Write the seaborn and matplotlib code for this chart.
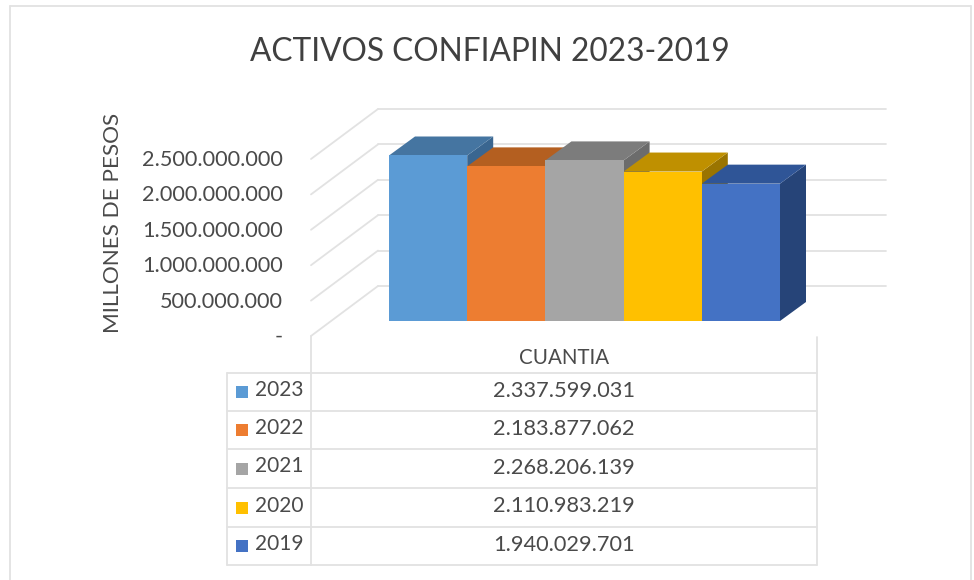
import matplotlib
matplotlib.use("Agg")
import matplotlib.pyplot as plt
import pandas as pd
import seaborn as sns
from matplotlib.lines import Line2D
from matplotlib.patches import Rectangle
from matplotlib.ticker import FuncFormatter

years = ["2023", "2022", "2021", "2020", "2019"]
values = [2337599031, 2183877062, 2268206139, 2110983219, 1940029701]
front_colors = ["#5B9BD5", "#ED7D31", "#A5A5A5", "#FFC000", "#4472C4"]
top_colors = ["#4575A1", "#B45F20", "#7C7C7C", "#BF9000", "#2F5597"]
side_colors = ["#3A6690", "#9E5019", "#6C6C6C", "#9A7400", "#264478"]
axis_ticks = [0, 500000000, 1000000000, 1500000000, 2000000000, 2500000000]

W, H = 974, 580
GRID = "#e2e2e2"
TEXT = "#4a4a4a"
FONT = "Lato"


def fmt(v, pos=None):
    if v == 0:
        return "-"
    return f"{v:,.0f}".replace(",", ".")


def fx(px):
    return px / W


def fy(py):
    return 1 - py / H


def fig_line(x0, y0, x1, y1, lw=1.3):
    fig.add_artist(Line2D([fx(x0), fx(x1)], [fy(y0), fy(y1)], color=GRID, lw=lw))


sns.set_style("white")
plt.rcParams["font.family"] = FONT

fig = plt.figure(figsize=(W / 100, H / 100), dpi=100)

# bars: axes sits on the front plane of the bars
x_left, x_right, y_base, y_top = 389, 780, 321, 100
px_per_val = 70.8e-9
px_per_cat = (x_right - x_left) / len(years)
ax = fig.add_axes([fx(x_left), fy(y_base), fx(x_right - x_left), (y_base - y_top) / H])
df = pd.DataFrame({"year": years, "value": values})
sns.barplot(data=df, x="year", y="value", hue="year", palette=front_colors,
            width=1.0, dodge=False, legend=False, saturation=1, ax=ax, zorder=5,
            linewidth=0, edgecolor="none")
ax.set_xlim(-0.5, len(years) - 0.5)
ax.set_ylim(0, (y_base - y_top) / px_per_val)
ax.axis("off")

# depth of the fake 3d bars
dx = 26 / px_per_cat
dy = 19 / px_per_val
for i, bar in enumerate(ax.patches):
    x0, x1 = bar.get_x(), bar.get_x() + bar.get_width()
    h = bar.get_height()
    ax.fill([x1, x1 + dx, x1 + dx, x1], [0, dy, h + dy, h], color=side_colors[i],
            lw=0, clip_on=False, zorder=2 + i * 0.02)
    ax.fill([x0, x1, x1 + dx, x0 + dx], [h, h, h + dy, h + dy], color=top_colors[i],
            lw=0, clip_on=False, zorder=2 + i * 0.02 + 0.01)

# y axis on the front edge of the left wall
ax_y = fig.add_axes([fx(311), fy(335), 0.2, 177 / H])
ax_y.patch.set_alpha(0)
ax_y.set_ylim(0, axis_ticks[-1])
ax_y.set_yticks(axis_ticks)
ax_y.yaxis.set_major_formatter(FuncFormatter(fmt))
ax_y.tick_params(axis="y", length=0, pad=20, labelsize=15.6, labelcolor=TEXT)
ax_y.set_xticks([])
sns.despine(ax=ax_y, left=True, bottom=True)
fig.text(fx(113), fy(223), "MILLONES DE PESOS", rotation=90, ha="center", va="center",
         fontsize=16.2, color=TEXT)

# walls
for v in axis_ticks:
    back_y = 286 - v * px_per_val
    front_y = 336 - v * px_per_val
    fig_line(378, back_y, 886, back_y)
    fig_line(311, front_y, 378, back_y)
for a in fig.artists:
    a.set_zorder(0)

# outer frame
fig_line(10, 6, 971, 6)
fig_line(10, 6, 10, 580)
fig_line(971, 6, 971, 580)

fig.text(fx(490), fy(52), "ACTIVOS CONFIAPIN 2023-2019", ha="center", va="center",
         fontsize=22.8, color="#404040")

# data table under the chart
row_lines = [373, 411, 449, 488, 527, 565]
tab_l, tab_m, tab_r = 227, 311, 817
for y in row_lines:
    fig_line(tab_l, y, tab_r, y)
fig_line(tab_l, row_lines[0], tab_l, row_lines[-1])
fig_line(tab_m, 336, tab_m, row_lines[-1])
fig_line(tab_r, 337, tab_r, row_lines[-1])
fig.text(fx(564), fy(358), "CUANTIA", ha="center", va="center", fontsize=14.8, color=TEXT)
for i, (yr, val) in enumerate(zip(years, values)):
    yc = (row_lines[i] + row_lines[i + 1]) / 2
    fig.add_artist(Rectangle((fx(236), fy(yc + 6)), 12 / W, 12 / H, color=front_colors[i],
                             lw=0, transform=fig.transFigure))
    fig.text(fx(255), fy(yc - 2), yr, ha="left", va="center", fontsize=15, color=TEXT)
    fig.text(fx(564), fy(yc - 1), fmt(val), ha="center", va="center", fontsize=15.7, color=TEXT)

fig.savefig("out.png", dpi=100, facecolor="white")
